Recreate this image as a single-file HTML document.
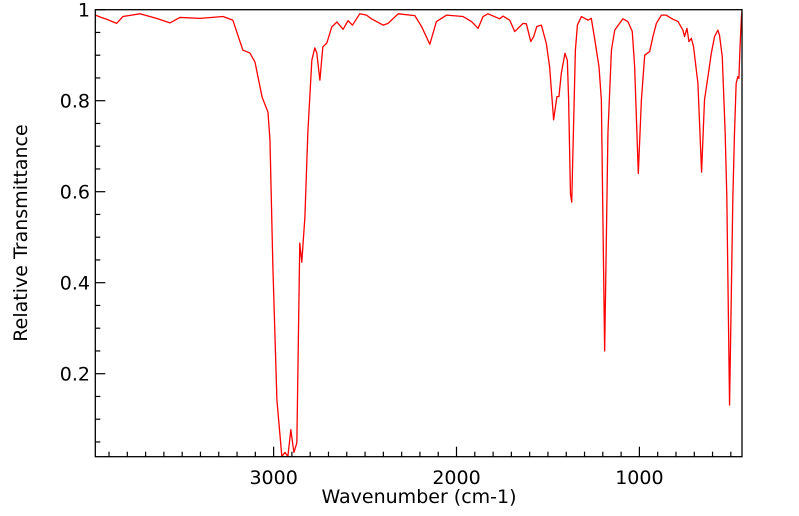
<!DOCTYPE html>
<html><head><meta charset="utf-8"><style>
html,body{margin:0;padding:0;background:#fff;}
svg{display:block;font-family:"DejaVu Sans","Liberation Sans",sans-serif;}
</style></head><body>
<svg id="chart" width="799" height="516" viewBox="0 0 799 516" xmlns="http://www.w3.org/2000/svg">
<defs><clipPath id="clip"><rect x="95.3" y="9.7" width="646.7" height="447"/></clipPath></defs>
<g id="axes"></g>
<g id="series" clip-path="url(#clip)"></g>
<rect x="95.3" y="9.7" width="646.7" height="447" fill="none" stroke="#000" stroke-width="1.3"/>
<text x="419" y="503" font-size="19" text-anchor="middle">Wavenumber (cm-1)</text>
<text transform="translate(27,233) rotate(-90)" font-size="19" text-anchor="middle">Relative Transmittance</text>
</svg>
<script>
const wavenumbers = [3974,3949,3913,3858,3824,3731,3640,3567,3512,3403,3277,3223,3168,3130,3102,3063,3031,3020,3004,2982,2955,2938,2922,2906,2889,2873,2857,2846,2829,2813,2791,2775,2764,2747,2731,2709,2682,2654,2620,2593,2569,2529,2492,2465,2401,2374,2319,2228,2191,2146,2110,2055,1964,1918,1882,1855,1828,1764,1746,1709,1682,1636,1618,1594,1578,1561,1536,1509,1491,1469,1451,1440,1427,1407,1394,1387,1377,1370,1361,1350,1339,1317,1281,1263,1245,1221,1208,1190,1172,1153,1135,1090,1063,1039,1026,1006,989,971,944,926,907,880,853,826,789,762,753,740,729,716,704,680,660,644,620,607,589,580,571,562,547,531,522,507,489,480,471,462,456,449,442,438];
const transmittance = [0.988,0.984,0.979,0.970,0.985,0.991,0.981,0.971,0.983,0.981,0.985,0.977,0.911,0.905,0.885,0.808,0.775,0.714,0.434,0.142,0.018,0.027,0.018,0.077,0.027,0.048,0.487,0.445,0.544,0.729,0.889,0.916,0.905,0.845,0.918,0.927,0.962,0.973,0.957,0.976,0.966,0.991,0.988,0.980,0.966,0.970,0.991,0.987,0.963,0.924,0.974,0.988,0.985,0.974,0.959,0.985,0.991,0.980,0.986,0.977,0.952,0.970,0.969,0.930,0.941,0.963,0.966,0.926,0.875,0.758,0.809,0.809,0.860,0.904,0.889,0.802,0.596,0.577,0.729,0.911,0.966,0.985,0.977,0.981,0.937,0.875,0.802,0.250,0.729,0.911,0.955,0.980,0.974,0.952,0.875,0.640,0.802,0.900,0.908,0.941,0.970,0.988,0.988,0.981,0.974,0.955,0.941,0.959,0.930,0.937,0.919,0.838,0.643,0.802,0.867,0.904,0.941,0.948,0.955,0.944,0.897,0.729,0.589,0.131,0.589,0.729,0.838,0.853,0.849,0.926,0.985,0.999];
const xMajorTicks = [3000,2000,1000];
const xTickLabels = ["3000","2000","1000"];
const yMajorTicks = [0.2,0.4,0.6,0.8,1];
const yTickLabels = ["0.2","0.4","0.6","0.8","1"];

const X0=95.3,X1=742,Y0=9.7,Y1=456.7;
const WMAX=3975,WMIN=439,TMIN=0.0176,TMAX=1;
function xs(w){return X0+(WMAX-w)/(WMAX-WMIN)*(X1-X0);}
function ys(t){return Y1-(t-TMIN)/(TMAX-TMIN)*(Y1-Y0);}
const NS="http://www.w3.org/2000/svg";
const axes=document.getElementById('axes');
const series=document.getElementById('series');
function mk(tag,attrs,parent){const e=document.createElementNS(NS,tag);for(const k in attrs)e.setAttribute(k,attrs[k]);parent.appendChild(e);return e;}

for(let w=3900;w>=WMIN;w-=100){
  const major=xMajorTicks.includes(w);
  const l=mk('line',{x1:xs(w),x2:xs(w),y1:Y1,y2:Y1-(major?10:5),stroke:'#000','stroke-width':1.2},axes);
  
  
}
xMajorTicks.forEach((w,i)=>{
  const t=mk('text',{x:xs(w),y:484,'font-size':19,'text-anchor':'middle'},axes);
  t.textContent=xTickLabels[i];
  
  
});
for(let k=1;k<=20;k++){
  const v=k*0.05; if(v<TMIN) continue;
  const major=Math.abs(v*5-Math.round(v*5))<1e-6;
  const l=mk('line',{x1:X0,x2:X0+(major?10:5),y1:ys(v),y2:ys(v),stroke:'#000','stroke-width':1.2},axes);
  
  
}
yMajorTicks.forEach((v,i)=>{
  const t=mk('text',{x:90,y:ys(v)+7,'font-size':19,'text-anchor':'end'},axes);
  t.textContent=yTickLabels[i];
  
  
});
const pts=wavenumbers.map((w,i)=>xs(w).toFixed(2)+','+ys(transmittance[i]).toFixed(2)).join(' ');
const pl=mk('polyline',{points:pts,fill:'none',stroke:'#ff0000','stroke-width':1.3,'stroke-linejoin':'round'},series);


</script>
</body></html>
